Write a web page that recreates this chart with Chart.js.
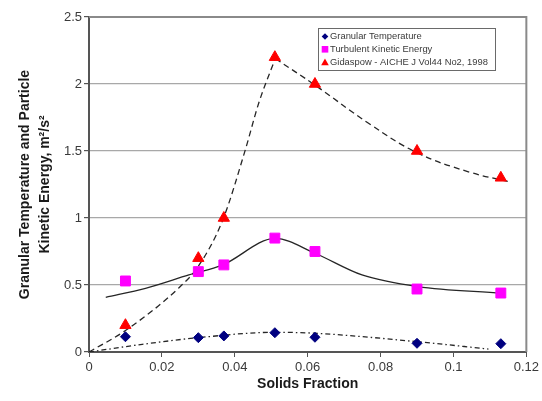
<!DOCTYPE html>
<html><head><meta charset="utf-8">
<script src="https://cdn.jsdelivr.net/npm/chart.js@4.4.0/dist/chart.umd.min.js"></script>
<style>html,body{margin:0;padding:0;background:#fff}#wrap{width:542px;height:401px;position:relative}</style>
</head><body><div id="wrap"><canvas id="c" width="542" height="401"></canvas></div>
<script>
// measured data points
const solidsFraction = [0.01, 0.03, 0.037, 0.051, 0.062, 0.09, 0.113];
const granularTemp   = [0.114, 0.107, 0.12, 0.144, 0.11, 0.065, 0.062];
const turbulentKE    = [0.53, 0.6, 0.65, 0.85, 0.75, 0.47, 0.44];
const gidaspow       = [0.2, 0.7, 1.0, 2.2, 2.0, 1.5, 1.3];
// trend lines
const gidFitRiseX = [0, 0.01, 0.0247, 0.03, 0.0367, 0.0429, 0.0466, 0.0511];
const gidFitRiseY = [0, 0.16, 0.48, 0.64, 0.985, 1.51, 1.86, 2.19];
const gidFitFallX = [0.0511, 0.0621, 0.0767, 0.09, 0.1041, 0.116];
const gidFitFallY = [2.19, 1.99, 1.707, 1.487, 1.345, 1.266];
const tkeFitX = [0.0046, 0.0155, 0.0274, 0.0367, 0.0511, 0.062, 0.0749, 0.0902, 0.1132];
const tkeFitY = [0.408, 0.475, 0.575, 0.65, 0.848, 0.737, 0.575, 0.488, 0.438];
const gtFitX = [0, 0.0146, 0.03, 0.051, 0.062, 0.09, 0.1096];
const gtFitY = [0, 0.057, 0.107, 0.147, 0.14, 0.077, 0.022];
const seriesNames = ['Granular Temperature', 'Turbulent Kinetic Energy', 'Gidaspow - AICHE J Vol44 No2, 1998'];
const xTickLabels = ['0', '0.02', '0.04', '0.06', '0.08', '0.1', '0.12'];
const yTickLabels = ['0', '0.5', '1', '1.5', '2', '2.5'];

const pts = (xs, ys) => xs.map((x, i) => ({x, y: ys[i]}));
const NAVY = '#000080', MAG = '#ff00ff', RED = '#ff0000', LINE = '#262626';

function fitLine(data, dash, order, smooth) {
  const d = {data, showLine: true, borderColor: LINE, borderWidth: 1.3, borderDash: dash,
    pointRadius: 0, pointHoverRadius: 0, order, fill: false};
  if (smooth === 'tension') { d.tension = 0.4; } else { d.cubicInterpolationMode = 'monotone'; }
  return d;
}

function drawMarker(ctx, style, x, y, color) {
  ctx.fillStyle = color;
  ctx.beginPath();
  if (style === 'diamond') {
    ctx.moveTo(x, y - 3.3); ctx.lineTo(x + 3.3, y); ctx.lineTo(x, y + 3.3); ctx.lineTo(x - 3.3, y);
  } else if (style === 'square') {
    ctx.rect(x - 3.3, y - 3.3, 6.6, 6.6);
  } else {
    ctx.moveTo(x, y - 3.8); ctx.lineTo(x + 3.8, y + 3); ctx.lineTo(x - 3.8, y + 3);
  }
  ctx.closePath(); ctx.fill();
}

const frameAndLegend = {
  id: 'frameAndLegend',
  beforeDatasetsDraw(chart) {
    const {ctx, chartArea: a} = chart;
    ctx.save();
    ctx.strokeStyle = '#8a8a8a'; ctx.lineWidth = 2;
    ctx.beginPath();
    ctx.moveTo(a.left, a.top); ctx.lineTo(a.right, a.top); ctx.lineTo(a.right, a.bottom);
    ctx.stroke();
    ctx.restore();
  },
  afterDraw(chart) {
    const {ctx} = chart;
    ctx.save();
    const x = 318, y = 28, w = 177, h = 42;
    ctx.fillStyle = '#fff'; ctx.fillRect(x, y, w, h);
    ctx.strokeStyle = '#6a6a6a'; ctx.lineWidth = 1; ctx.strokeRect(x + 0.5, y + 0.5, w, h);
    const styles = ['diamond', 'square', 'triangle'];
    const colors = [NAVY, MAG, RED];
    const ys = [36.5, 49.3, 62.3];
    ctx.font = '9.4px "Liberation Sans", Arial, sans-serif';
    ctx.textBaseline = 'middle'; ctx.textAlign = 'left';
    for (let i = 0; i < 3; i++) {
      drawMarker(ctx, styles[i], 325, ys[i], colors[i]);
      ctx.fillStyle = '#3a3a3a';
      ctx.fillText(seriesNames[i], 330, ys[i]);
    }
    ctx.restore();
  }
};

new Chart(document.getElementById('c'), {
  type: 'scatter',
  data: {
    datasets: [
      {label: seriesNames[0], data: pts(solidsFraction, granularTemp), pointStyle: 'rectRot', pointRadius: 5,
        backgroundColor: NAVY, borderColor: NAVY, borderWidth: 1, order: 0},
      {label: seriesNames[1], data: pts(solidsFraction, turbulentKE), pointStyle: 'rect', pointRadius: 7,
        backgroundColor: MAG, borderColor: MAG, borderWidth: 1, order: 0},
      {label: seriesNames[2], data: pts(solidsFraction, gidaspow), pointStyle: 'triangle', pointRadius: 6.5,
        backgroundColor: RED, borderColor: RED, borderWidth: 1, order: 0},
      fitLine(pts(gidFitRiseX, gidFitRiseY), [6, 4], 1),
      fitLine(pts(gidFitFallX, gidFitFallY), [6, 4], 1, 'tension'),
      fitLine(pts(tkeFitX, tkeFitY), [], 1),
      fitLine(pts(gtFitX, gtFitY), [5, 3, 1.5, 3], 1)
    ]
  },
  options: {
    responsive: false, animation: false, devicePixelRatio: 1,
    layout: {padding: {top: 17, right: 14, left: 0, bottom: 0}},
    plugins: {legend: {display: false}, tooltip: {enabled: false}},
    scales: {
      x: {
        type: 'linear', min: 0, max: 0.12,
        afterFit: s => { s.height = 49; },
        afterBuildTicks: s => { s.ticks = xTickLabels.map(t => ({value: parseFloat(t)})); },
        ticks: {callback: (v, i) => xTickLabels[i], color: '#3a3a3a', padding: 3, maxRotation: 0,
          font: {family: '"Liberation Sans", Arial, sans-serif', size: 13}},
        grid: {drawOnChartArea: false, drawTicks: true, tickLength: 5, tickColor: '#555'},
        border: {display: true, color: '#555', width: 2},
        title: {display: true, text: 'Solids Fraction', color: '#1a1a1a', padding: {top: 0, bottom: 8},
          font: {family: '"Liberation Sans", Arial, sans-serif', size: 14, weight: 'bold'}}
      },
      y: {
        type: 'linear', min: 0, max: 2.5,
        afterFit: s => { s.width = 89; },
        afterBuildTicks: s => { s.ticks = yTickLabels.map(t => ({value: parseFloat(t)})); },
        ticks: {callback: (v, i) => yTickLabels[i], color: '#3a3a3a', padding: 2,
          font: {family: '"Liberation Sans", Arial, sans-serif', size: 13}},
        grid: {color: (c) => (c.tick && (c.tick.value === 0 || c.tick.value === 2.5)) ? 'rgba(0,0,0,0)' : '#a8a8a8',
          lineWidth: 1.2, drawTicks: true, tickLength: 5, tickColor: '#555'},
        border: {display: true, color: '#555', width: 2},
        title: {display: true, text: ['Granular Temperature and Particle', 'Kinetic Energy, m\u00b2/s\u00b2'],
          color: '#1a1a1a', padding: {top: 15, bottom: 0},
          font: {family: '"Liberation Sans", Arial, sans-serif', size: 14, weight: 'bold', lineHeight: 1.43}}
      }
    }
  },
  plugins: [frameAndLegend]
});
</script></body></html>
